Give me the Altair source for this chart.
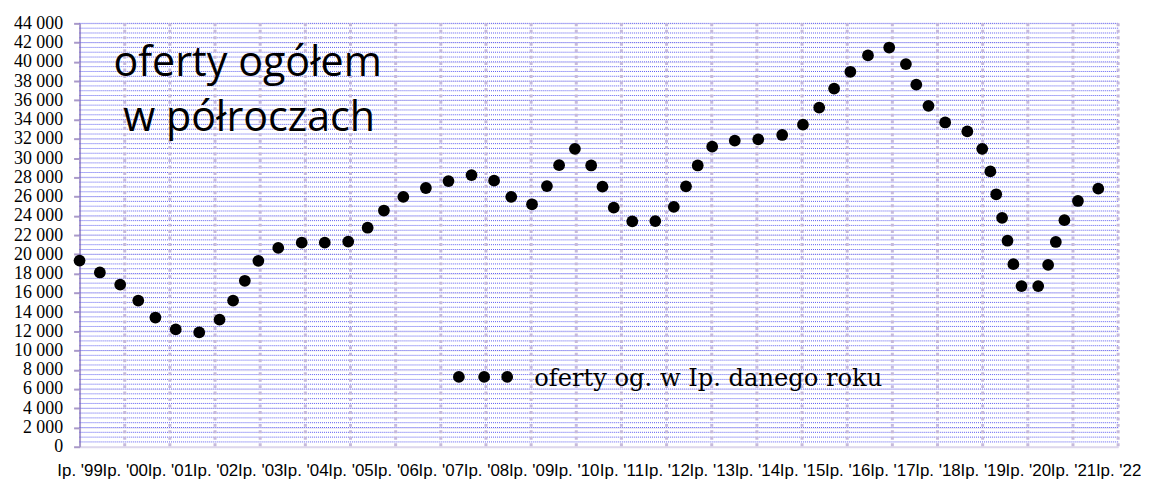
import json
import altair as alt
import pandas as pd

# half-year offers (x = position in years, y = number of offers)
x_years = [1999.00, 1999.45, 1999.90, 2000.30, 2000.68, 2001.13, 2001.65, 2002.10, 2002.40, 2002.66,
           2002.96, 2003.40, 2003.92, 2004.43, 2004.95, 2005.38, 2005.74, 2006.17, 2006.67, 2007.17,
           2007.68, 2008.18, 2008.56, 2009.02, 2009.35, 2009.62, 2009.97, 2010.33, 2010.58, 2010.83,
           2011.24, 2011.75, 2012.16, 2012.43, 2012.69, 2013.01, 2013.51, 2014.03, 2014.56, 2015.02,
           2015.38, 2015.71, 2016.07, 2016.46, 2016.93, 2017.30, 2017.53, 2017.80, 2018.17, 2018.66,
           2018.99, 2019.17, 2019.30, 2019.43, 2019.55, 2019.68, 2019.86, 2020.23, 2020.45, 2020.62,
           2020.81, 2021.11, 2021.56]
offers = [19350, 18110, 16840, 15190, 13430, 12190, 11880, 13220, 15190, 17250,
          19320, 20660, 21210, 21210, 21320, 22760, 24550, 25960, 26890, 27610,
          28230, 27650, 25960, 25200, 27090, 29260, 30960, 29230, 27030, 24860,
          23420, 23450, 24920, 27060, 29230, 31190, 31810, 31950, 32400, 33470,
          35250, 37220, 38970, 40670, 41490, 39770, 37640, 35430, 33700, 32770,
          30960, 28610, 26240, 23790, 21410, 18970, 16700, 16700, 18900, 21280,
          23550, 25540, 26820]

x_tick_years = list(range(1999, 2023))
x_labels = ["Ip. '" + str(y)[2:] for y in x_tick_years]
y_ticks = list(range(0, 44001, 2000))
y_labels = ["0"] + [f"{v // 1000} 000" for v in y_ticks[1:]]

title_lines = ["oferty ogółem", "w półroczach"]
title_x = [1999.75, 1999.97]
title_y = [38530, 32850]

legend_text = "oferty og. w Ip. danego roku"
legend_dot_x = [2007.40, 2007.96, 2008.47]
legend_dot_y = [7260, 7260, 7260]
legend_text_x = [2009.07]
legend_text_y = [6330]

minor_grid = list(range(500, 44001, 500))
year_grid = list(range(2000, 2023))

xs = alt.Scale(domain=[1999, 2022], nice=False, zero=False)
ys = alt.Scale(domain=[0, 44000], nice=False)

df = pd.DataFrame({"x": x_years, "y": offers})

x_axis = alt.Axis(values=x_tick_years, labelExpr=f"{json.dumps(x_labels)}[round(datum.value - 1999)]",
                  grid=False, ticks=False, tickSize=0, labelPadding=16, labelFont="Liberation Sans",
                  labelFontSize=17, labelColor="black", domainColor="#ddd7ec", domainWidth=2,
                  labelOverlap=False, labelFlush=False, title=None)
y_axis = alt.Axis(values=y_ticks, labelExpr=f"{json.dumps(y_labels)}[round(datum.value / 2000)]",
                  grid=True, gridColor="#e9e5f3", gridWidth=1, tickSize=6, tickColor="#a999c9",
                  tickWidth=2, domainColor="#a999c9", domainWidth=2, labelFont="Liberation Serif",
                  labelFontSize=18, labelColor="black", labelPadding=11, labelOverlap=False,
                  labelFlush=False, title=None)


def X(field):
    return alt.X(field, scale=xs, axis=x_axis)


def Y(field):
    return alt.Y(field, scale=ys, axis=y_axis)


hgrid = alt.Chart(pd.DataFrame({"v": minor_grid})).mark_rule(
    color="#5c5cf0", strokeDash=[1, 1], strokeWidth=1
).encode(y=Y("v:Q"))

vgrid = alt.Chart(pd.DataFrame({"yr": year_grid})).mark_rule(
    color="#c6badb", strokeDash=[3, 3.5], strokeWidth=3
).encode(x=X("yr:Q"))

points = alt.Chart(df).mark_circle(size=140, color="black", opacity=1).encode(
    x=X("x:Q"), y=Y("y:Q"),
)

leg_dots = alt.Chart(pd.DataFrame({"x": legend_dot_x, "y": legend_dot_y})).mark_circle(
    size=140, color="black", opacity=1
).encode(x=X("x:Q"), y=Y("y:Q"))

leg_text = alt.Chart(pd.DataFrame({"x": legend_text_x, "y": legend_text_y, "t": [legend_text]})).mark_text(
    align="left", baseline="alphabetic", font="DejaVu Serif", fontSize=24.3, color="black"
).encode(x=X("x:Q"), y=Y("y:Q"), text="t:N")

title = alt.Chart(pd.DataFrame({"x": title_x, "y": title_y, "t": title_lines})).mark_text(
    align="left", baseline="alphabetic", font="Open Sans", fontSize=41.5, color="black"
).encode(x=X("x:Q"), y=Y("y:Q"), text="t:N")

chart = alt.layer(hgrid, vgrid, points, leg_dots, leg_text, title).properties(
    width=1045, height=426, padding={"left": 5, "top": 5, "right": 0, "bottom": 0}
).configure_view(stroke=None)

chart.save("out.html", embed_options={"renderer": "svg", "actions": False})
